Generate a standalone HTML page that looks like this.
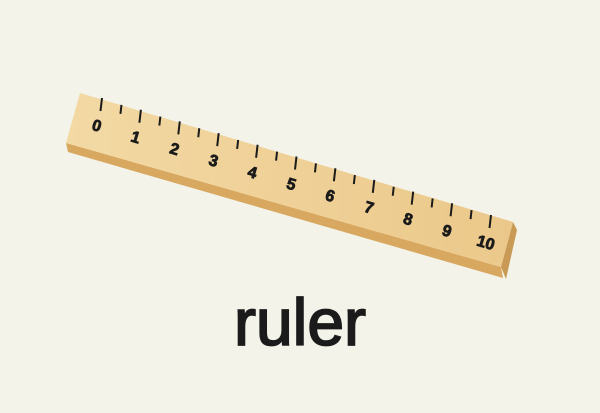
<!DOCTYPE html>
<html><head><meta charset="utf-8"><style>
html,body{margin:0;padding:0;background:#f3f3e9;}
svg{display:block;}
</style></head><body>
<svg id="scene" width="600" height="413" viewBox="0 0 600 413" xmlns="http://www.w3.org/2000/svg">
<defs>
<linearGradient id="top" x1="0" y1="0" x2="1" y2="0">
<stop offset="0" stop-color="#f3d9a4"/><stop offset="1" stop-color="#ebc88a"/>
</linearGradient>
</defs>
<rect width="600" height="413" fill="#f3f3e9"/>
<g>
<polygon points="66,143 501,267 503,278 68,152" fill="#d8a860"/>
<polygon points="513,222 517,230 506,279 501,267" fill="#c99a55"/>
<polygon points="80,93 513,222 501,267 66,143" fill="url(#top)"/>
<g id="ticks"></g>
</g>
<text x="300" y="345" text-anchor="middle" font-family="Liberation Sans, sans-serif" font-size="66" fill="#1b1b1b" stroke="#1b1b1b" stroke-width="1.8">ruler</text>
</svg>
<script>
const labels=["0","1","2","3","4","5","6","7","8","9","10"];
const minorSteps=[0.5,1.5,2.5,3.5,4.5,5.5,6.5,7.5,8.5,9.5];
const NS="http://www.w3.org/2000/svg";
const g=document.getElementById('ticks');
function px(v){return 102+v*38.9;}
function py(v){return 98+v*11.7;}
labels.forEach((l,i)=>{
  const v=Number(l);
  const t=document.createElementNS(NS,'line');
  t.setAttribute('x1',px(v));t.setAttribute('y1',py(v));
  t.setAttribute('x2',px(v)-1.5);t.setAttribute('y2',py(v)+13);
  t.setAttribute('stroke','#1b1b1b');t.setAttribute('stroke-width','2');
  
  
  g.appendChild(t);
  const tx=document.createElementNS(NS,'text');
  tx.setAttribute('x',px(v)-5);tx.setAttribute('y',py(v)+33);
  tx.setAttribute('text-anchor','middle');
  tx.setAttribute('font-family','Liberation Sans, sans-serif');
  tx.setAttribute('font-weight','bold');tx.setAttribute('font-size','16');
  tx.setAttribute('fill','#1b1b1b');
  tx.setAttribute('stroke','#1b1b1b');tx.setAttribute('stroke-width','0.8');
  tx.setAttribute('transform','rotate(16.7 '+(px(v)-5)+' '+(py(v)+27)+')');
  tx.textContent=l;
  
  
  g.appendChild(tx);
});
minorSteps.forEach(v=>{
  const t=document.createElementNS(NS,'line');
  t.setAttribute('x1',px(v));t.setAttribute('y1',py(v)+1);
  t.setAttribute('x2',px(v)-1);t.setAttribute('y2',py(v)+10);
  t.setAttribute('stroke','#1b1b1b');t.setAttribute('stroke-width','2');
  
  
  g.appendChild(t);
});
</script>
</body></html>
